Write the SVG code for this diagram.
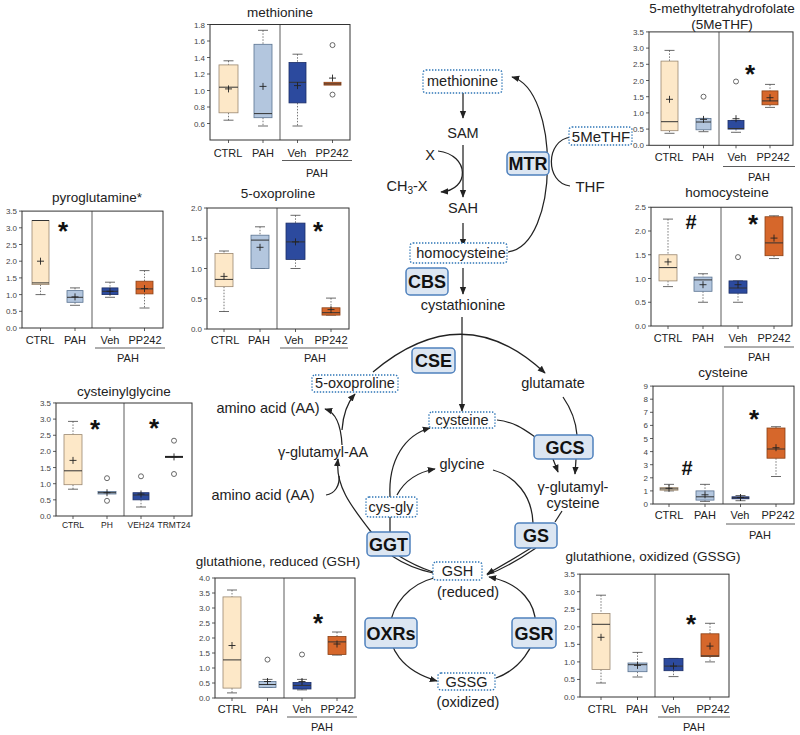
<svg xmlns="http://www.w3.org/2000/svg" width="800" height="735" viewBox="0 0 800 735">
<defs>
<marker id="ah" viewBox="0 0 10 10" refX="9" refY="5" markerWidth="8" markerHeight="8" markerUnits="userSpaceOnUse" orient="auto"><path d="M0,1 L10,5 L0,9 z" fill="#222"/></marker>
<style>
text{font-family:"Liberation Sans",Arial,sans-serif}
.fr{fill:none;stroke:#333;stroke-width:1}
.tk{stroke:#333;stroke-width:0.8}
.tl{font-size:8px;fill:#444;text-anchor:end}
.xl{font-size:11px;fill:#222;text-anchor:middle}
.xs{font-size:8.5px;fill:#222;text-anchor:middle}
.ti{font-size:13.5px;fill:#222;text-anchor:middle}
.c{fill:#FDE8C8;stroke:#9A8770;stroke-width:0.8}
.p{fill:#B3C6DE;stroke:#5A7391;stroke-width:0.8}
.v{fill:#2C4A9E;stroke:#1B2D66;stroke-width:0.8}
.o{fill:#D6672B;stroke:#8A4015;stroke-width:0.8}
.md{stroke:#333;stroke-width:1}
.w{stroke:#555;stroke-width:0.8;stroke-dasharray:1.5 1.5}
.cp{stroke:#444;stroke-width:0.8}
.mn{stroke:#222;stroke-width:0.9;fill:none}
.ol{fill:#fff;stroke:#444;stroke-width:0.8}
.st{font-size:26px;font-weight:bold;fill:#111;text-anchor:middle}
.hs{font-size:20px;font-weight:bold;fill:#111;text-anchor:middle}
.ul{stroke:#333;stroke-width:0.8}
.pt{font-size:14.5px;fill:#222;text-anchor:middle}
.en rect{fill:#DCE6F2;stroke:#4F81BD;stroke-width:1.5}
.en text{font-size:18px;font-weight:bold;fill:#111;text-anchor:middle}
.db rect{fill:#fff;stroke:#2E75B6;stroke-width:1.4;stroke-dasharray:1.4 1.6}
.cn path{fill:none;stroke:#222;stroke-width:1.25}
</style>
</defs>
<rect width="800" height="735" fill="#fff"/>

<!-- methionine chart -->
<g id="chart-methionine">
<text class="ti" x="280" y="17">methionine</text>
<rect class="fr" x="210" y="24.5" width="140" height="115.5"/>
<line class="tk" x1="280" y1="24.5" x2="280" y2="140"/>
<path class="tk" d="M207,123.5h3M207,107h3M207,90.5h3M207,74h3M207,57.5h3M207,41h3M207,24.5h3M228.5,140v3M263,140v3M297.5,140v3M332.5,140v3"/>
<text class="tl" x="205" y="126.5">0.6</text><text class="tl" x="205" y="110">0.8</text><text class="tl" x="205" y="93.5">1.0</text><text class="tl" x="205" y="77">1.2</text><text class="tl" x="205" y="60.5">1.4</text><text class="tl" x="205" y="44">1.6</text><text class="tl" x="205" y="27.5">1.8</text>
<path class="w" d="M228.5,60.8V64.9M228.5,112.8V120.2M263,30.3V44.3M263,117.7V126M297.5,54.2V62.5M297.5,102.9V126"/>
<path class="cp" d="M223.5,60.8h10M223.5,120.2h10M258,30.3h10M258,126h10M292.5,54.2h10M292.5,126h10"/>
<rect class="c" x="219" y="64.9" width="19" height="47.9"/>
<rect class="p" x="254" y="44.3" width="18" height="73.4"/>
<rect class="v" x="289" y="62.5" width="17" height="40.4"/>
<rect class="o" x="324" y="82.3" width="17" height="2.8"/>
<path class="md" d="M219,87.2h19M254,113.6h18M289,82.3h17M324,83.9h17"/>
<path class="mn" d="M225,88.9h7M228.5,85.4v7M259.5,86.4h7M263,82.9v7M294,85.6h7M297.5,82.1v7M329,78.1h7M332.5,74.6v7"/>
<circle class="ol" cx="332.5" cy="45.1" r="2.5"/><circle class="ol" cx="332.5" cy="94.6" r="2.5"/>
<text class="xl" x="228" y="157">CTRL</text><text class="xl" x="263" y="157">PAH</text><text class="xl" x="297" y="157">Veh</text><text class="xl" x="332" y="157">PP242</text>
<line class="ul" x1="282" y1="160.5" x2="352" y2="160.5"/>
<text class="xl" x="317" y="177">PAH</text>
</g>

<!-- 5MeTHF chart -->
<g id="chart-5methf">
<text class="ti" x="722" y="13">5-methyltetrahydrofolate</text>
<text class="ti" x="722" y="29">(5MeTHF)</text>
<rect class="fr" x="649" y="31.9" width="144" height="113.4"/>
<line class="tk" x1="719" y1="31.9" x2="719" y2="145.3"/>
<path class="tk" d="M646,145.3h3M646,129.1h3M646,112.9h3M646,96.7h3M646,80.5h3M646,64.3h3M646,48.1h3M646,31.9h3M669.5,145.3v3M703.5,145.3v3M736,145.3v3M770,145.3v3"/>
<text class="tl" x="644" y="148.3">0.0</text><text class="tl" x="644" y="132.1">0.5</text><text class="tl" x="644" y="115.9">1.0</text><text class="tl" x="644" y="99.7">1.5</text><text class="tl" x="644" y="83.5">2.0</text><text class="tl" x="644" y="67.3">2.5</text><text class="tl" x="644" y="51.1">3.0</text><text class="tl" x="644" y="34.9">3.5</text>
<path class="w" d="M669.5,50.4V61.1M669.5,130.7V133.3M703.5,129.8V131.7M736,129.1V132.3M770,84.4V90.9M770,104.8V107.4"/>
<path class="cp" d="M664.5,50.4h10M664.5,133.3h10M698.5,131.7h10M698.5,118.4h10M731,132.3h10M731,120.4h10M765,84.4h10M765,107.4h10"/>
<rect class="c" x="661" y="61.1" width="17" height="69.6"/>
<rect class="p" x="696" y="118.4" width="15" height="11.4"/>
<rect class="v" x="728" y="120.4" width="16" height="8.7"/>
<rect class="o" x="762" y="90.9" width="16" height="13.9"/>
<path class="md" d="M661,121.7h17M696,122h15M728,128.5h16M762,100.9h16"/>
<path class="mn" d="M666,99.3h7M669.5,95.8v7M700,119.4h7M703.5,115.9v7M732.5,118.7h7M736,115.2v7M766.5,97.7h7M770,94.2v7"/>
<circle class="ol" cx="703.5" cy="96.7" r="2.5"/><circle class="ol" cx="736" cy="81.5" r="2.5"/>
<text class="st" x="750" y="83">*</text>
<text class="xl" x="669" y="161">CTRL</text><text class="xl" x="703" y="161">PAH</text><text class="xl" x="737" y="161">Veh</text><text class="xl" x="773" y="161">PP242</text>
<line class="ul" x1="723" y1="166.5" x2="795" y2="166.5"/>
<text class="xl" x="759" y="181">PAH</text>
</g>

<!-- homocysteine chart -->
<g id="chart-homocysteine">
<text class="ti" x="727" y="197">homocysteine</text>
<rect class="fr" x="651" y="207.25" width="141" height="118.75"/>
<line class="tk" x1="721" y1="207.25" x2="721" y2="326"/>
<path class="tk" d="M648,326h3M648,302.25h3M648,278.5h3M648,254.75h3M648,231h3M648,207.25h3M668,326v3M703,326v3M738,326v3M774,326v3"/>
<text class="tl" x="646" y="329">0.0</text><text class="tl" x="646" y="305.25">0.5</text><text class="tl" x="646" y="281.5">1.0</text><text class="tl" x="646" y="257.75">1.5</text><text class="tl" x="646" y="234">2.0</text><text class="tl" x="646" y="210.25">2.5</text>
<path class="w" d="M668,219.1V254.75M668,280.9V286.6M703,273.75V277.1M703,291.3V302.25M738,293.2V302.25M774,215.8V216.75M774,255.7V258.55"/>
<path class="cp" d="M663,219.1h10M663,286.6h10M698,273.75h10M698,302.25h10M733,302.25h10M733,280.9h10M769,215.8h10M769,258.55h10"/>
<rect class="c" x="659" y="254.75" width="18" height="26.15"/>
<rect class="p" x="694" y="277.1" width="18" height="14.2"/>
<rect class="v" x="729" y="280.9" width="18" height="12.3"/>
<rect class="o" x="765" y="216.75" width="18" height="38.95"/>
<path class="md" d="M659,267.6h18M694,279.9h18M729,288h18M765,242.9h18"/>
<path class="mn" d="M664.5,261.9h7M668,258.4v7M699.5,284.7h7M703,281.2v7M734.5,284.7h7M738,281.2v7M770.5,238.1h7M774,234.6v7"/>
<circle class="ol" cx="738" cy="257.1" r="2.5"/>
<text class="hs" x="691" y="229">#</text>
<text class="st" x="753" y="233">*</text>
<text class="xl" x="668" y="342">CTRL</text><text class="xl" x="703" y="342">PAH</text><text class="xl" x="738" y="342">Veh</text><text class="xl" x="774" y="342">PP242</text>
<line class="ul" x1="724" y1="347" x2="794" y2="347"/>
<text class="xl" x="759" y="361">PAH</text>
</g>

<!-- cysteine chart -->
<g id="chart-cysteine">
<text class="ti" x="723" y="377">cysteine</text>
<rect class="fr" x="653" y="386.1" width="141" height="117.9"/>
<line class="tk" x1="723" y1="386.1" x2="723" y2="504"/>
<path class="tk" d="M650,504h3M650,490.9h3M650,477.8h3M650,464.7h3M650,451.6h3M650,438.5h3M650,425.4h3M650,412.3h3M650,399.2h3M650,386.1h3M669,504v3M705,504v3M740.5,504v3M776,504v3"/>
<text class="tl" x="648" y="507">0</text><text class="tl" x="648" y="493.9">1</text><text class="tl" x="648" y="480.8">2</text><text class="tl" x="648" y="467.7">3</text><text class="tl" x="648" y="454.6">4</text><text class="tl" x="648" y="441.5">5</text><text class="tl" x="648" y="428.4">6</text><text class="tl" x="648" y="415.3">7</text><text class="tl" x="648" y="402.2">8</text><text class="tl" x="648" y="389.1">9</text>
<path class="w" d="M669,484.35V487.6M705,484.35V490.9M705,500.1V501.4M740.5,495.5V496.8M740.5,498.8V500.7M776,426.7V428M776,458.2V476.5"/>
<path class="cp" d="M664,484.35h10M664,490.9h10M700,484.35h10M700,501.4h10M735.5,495.5h10M735.5,500.7h10M771,426.7h10M771,476.5h10"/>
<rect class="c" x="660" y="487.6" width="18" height="2.6"/>
<rect class="p" x="696" y="490.9" width="18" height="9.2"/>
<rect class="v" x="732" y="496.8" width="17" height="2"/>
<rect class="o" x="767" y="428" width="18" height="30.2"/>
<path class="md" d="M660,488.9h18M696,496.8h18M732,497.8h17M767,449h18"/>
<path class="mn" d="M665.5,488.3h7M669,484.8v7M701.5,494.8h7M705,491.3v7M737,497.5h7M740.5,494v7M772.5,447.7h7M776,444.2v7"/>
<text class="hs" x="687" y="475">#</text>
<text class="st" x="754" y="428">*</text>
<text class="xl" x="669" y="519">CTRL</text><text class="xl" x="705" y="519">PAH</text><text class="xl" x="740" y="519">Veh</text><text class="xl" x="778" y="519">PP242</text>
<line class="ul" x1="726" y1="524" x2="795" y2="524"/>
<text class="xl" x="760" y="539">PAH</text>
</g>

<!-- GSSG chart -->
<g id="chart-gssg">
<text class="ti" x="653" y="561">glutathione, oxidized (GSSG)</text>
<rect class="fr" x="580" y="574.15" width="149" height="122.85"/>
<line class="tk" x1="655" y1="574.15" x2="655" y2="697"/>
<path class="tk" d="M577,697h3M577,679.45h3M577,661.9h3M577,644.35h3M577,626.8h3M577,609.25h3M577,591.7h3M577,574.15h3M601,697v3M637.5,697v3M673.5,697v3M710,697v3"/>
<text class="tl" x="575" y="700">0.0</text><text class="tl" x="575" y="682.45">0.5</text><text class="tl" x="575" y="664.9">1.0</text><text class="tl" x="575" y="647.35">1.5</text><text class="tl" x="575" y="629.8">2.0</text><text class="tl" x="575" y="612.25">2.5</text><text class="tl" x="575" y="594.7">3.0</text><text class="tl" x="575" y="577.15">3.5</text>
<path class="w" d="M601,595.2V613.5M601,669.6V683M637.5,652.4V663M637.5,671.7V677M673.5,670.7V676.6M710,623.3V633.8M710,656.6V661.9"/>
<path class="cp" d="M596,595.2h10M596,683h10M632.5,652.4h10M632.5,677h10M668.5,676.6h10M668.5,658.4h10M705,623.3h10M705,661.9h10"/>
<rect class="c" x="592" y="613.5" width="18" height="56.1"/>
<rect class="p" x="628" y="663" width="19" height="8.7"/>
<rect class="v" x="664" y="658.4" width="19" height="12.3"/>
<rect class="o" x="701" y="633.8" width="18" height="22.8"/>
<path class="md" d="M592,624.3h18M628,664.7h19M664,666.1h19M701,655.9h18"/>
<path class="mn" d="M597.5,637.3h7M601,633.8v7M634,665.4h7M637.5,661.9v7M670,666.1h7M673.5,662.6v7M706.5,646.1h7M710,642.6v7"/>
<text class="st" x="691" y="633">*</text>
<text class="xl" x="602" y="713">CTRL</text><text class="xl" x="637" y="713">PAH</text><text class="xl" x="671" y="713">Veh</text><text class="xl" x="713" y="713">PP242</text>
<line class="ul" x1="658" y1="717" x2="730" y2="717"/>
<text class="xl" x="694" y="731">PAH</text>
</g>

<!-- GSH chart -->
<g id="chart-gsh">
<text class="ti" x="278" y="566">glutathione, reduced (GSH)</text>
<rect class="fr" x="215" y="578" width="140" height="120"/>
<line class="tk" x1="284" y1="578" x2="284" y2="698"/>
<path class="tk" d="M212,698h3M212,683h3M212,668h3M212,653h3M212,638h3M212,623h3M212,608h3M212,593h3M212,578h3M232,698v3M267.5,698v3M302,698v3M337,698v3"/>
<text class="tl" x="210" y="701">0.0</text><text class="tl" x="210" y="686">0.5</text><text class="tl" x="210" y="671">1.0</text><text class="tl" x="210" y="656">1.5</text><text class="tl" x="210" y="641">2.0</text><text class="tl" x="210" y="626">2.5</text><text class="tl" x="210" y="611">3.0</text><text class="tl" x="210" y="596">3.5</text><text class="tl" x="210" y="581">4.0</text>
<path class="w" d="M232,590V596.9M232,688.1V692.9M267.5,679.4V681.5M302,679.4V682.4M302,689V689.9M337,632V636.5M337,654.5V655.1"/>
<path class="cp" d="M227,590h10M227,692.9h10M262.5,679.4h10M262.5,687.5h10M297,679.4h10M297,689.9h10M332,632h10M332,655.1h10"/>
<rect class="c" x="223" y="596.9" width="18" height="91.2"/>
<rect class="p" x="259" y="681.5" width="17" height="6"/>
<rect class="v" x="293" y="682.4" width="18" height="6.6"/>
<rect class="o" x="328" y="636.5" width="18" height="18"/>
<path class="md" d="M223,659.9h18M259,684.5h17M293,685.4h18M328,641.9h18"/>
<path class="mn" d="M228.5,645.5h7M232,642v7M264,681.5h7M267.5,678v7M298.5,681.5h7M302,678v7M333.5,644h7M337,640.5v7"/>
<circle class="ol" cx="267.5" cy="659.6" r="2.5"/><circle class="ol" cx="302" cy="654.5" r="2.5"/>
<text class="st" x="318" y="632">*</text>
<text class="xl" x="232" y="713">CTRL</text><text class="xl" x="267" y="713">PAH</text><text class="xl" x="302" y="713">Veh</text><text class="xl" x="337" y="713">PP242</text>
<line class="ul" x1="287" y1="717" x2="357" y2="717"/>
<text class="xl" x="322" y="731">PAH</text>
</g>

<!-- cysteinylglycine chart -->
<g id="chart-cysteinylglycine">
<text class="ti" x="124" y="396">cysteinylglycine</text>
<rect class="fr" x="56" y="403" width="136" height="113"/>
<line class="tk" x1="124" y1="403" x2="124" y2="516"/>
<path class="tk" d="M53,516h3M53,499.85h3M53,483.7h3M53,467.55h3M53,451.4h3M53,435.25h3M53,419.1h3M53,402.95h3M73,516v3M107,516v3M141,516v3M174,516v3"/>
<text class="tl" x="51" y="519">0.0</text><text class="tl" x="51" y="502.85">0.5</text><text class="tl" x="51" y="486.7">1.0</text><text class="tl" x="51" y="470.55">1.5</text><text class="tl" x="51" y="454.4">2.0</text><text class="tl" x="51" y="438.25">2.5</text><text class="tl" x="51" y="422.1">3.0</text><text class="tl" x="51" y="405.95">3.5</text>
<path class="w" d="M73,421.4V434.6M73,484.7V489.2M141,499.85V507"/>
<path class="cp" d="M68,421.4h10M68,489.2h10M136,507h10"/>
<rect class="c" x="64" y="434.6" width="18" height="50.1"/>
<rect class="p" x="98" y="491.5" width="18" height="2.5"/>
<rect class="v" x="133" y="492.7" width="16" height="7.15"/>
<path class="md" d="M64,470.8h18M98,492.7h18M133,495h16"/>
<line x1="165" y1="456.9" x2="183" y2="456.9" stroke="#222" stroke-width="2"/>
<path class="mn" d="M69.5,460.4h7M73,456.9v7M103.5,492.7h7M107,489.2v7M137.5,494h7M141,490.5v7M170.5,456.9h7M174,453.4v7"/>
<circle class="ol" cx="107" cy="478.2" r="2.5"/><circle class="ol" cx="107" cy="500.8" r="2.5"/><circle class="ol" cx="141" cy="476.3" r="2.5"/><circle class="ol" cx="174" cy="440.7" r="2.5"/><circle class="ol" cx="174" cy="474" r="2.5"/>
<text class="st" x="95" y="438">*</text><text class="st" x="154" y="437">*</text>
<text class="xs" x="73" y="528">CTRL</text><text class="xs" x="107" y="528">PH</text><text class="xs" x="141" y="528">VEH24</text><text class="xs" x="174" y="528">TRMT24</text>
</g>

<!-- pyroglutamine chart -->
<g id="chart-pyroglutamine">
<text class="ti" x="97" y="202">pyroglutamine*</text>
<rect class="fr" x="22" y="211.1" width="141" height="116.9"/>
<line class="tk" x1="92" y1="211.1" x2="92" y2="328"/>
<path class="tk" d="M19,328h3M19,311.3h3M19,294.6h3M19,277.9h3M19,261.2h3M19,244.5h3M19,227.8h3M19,211.1h3M40.5,328v3M75,328v3M110,328v3M144.5,328v3"/>
<text class="tl" x="17" y="331">0.0</text><text class="tl" x="17" y="314.3">0.5</text><text class="tl" x="17" y="297.6">1.0</text><text class="tl" x="17" y="280.9">1.5</text><text class="tl" x="17" y="264.2">2.0</text><text class="tl" x="17" y="247.5">2.5</text><text class="tl" x="17" y="230.8">3.0</text><text class="tl" x="17" y="214.1">3.5</text>
<path class="w" d="M40.5,284.6V294.6M75,287.9V290.6M75,302.3V305.3M110,282.2V287.9M110,294.6V297.3M144.5,270.6V281.2M144.5,293.9V308"/>
<path class="cp" d="M35.5,294.6h10M70,287.9h10M70,305.3h10M105,282.2h10M105,297.3h10M139.5,270.6h10M139.5,308h10"/>
<rect class="c" x="32" y="220.5" width="17" height="64.1"/>
<rect class="p" x="67" y="290.6" width="16" height="11.7"/>
<rect class="v" x="102" y="287.9" width="16" height="6.7"/>
<rect class="o" x="136" y="281.2" width="17" height="12.7"/>
<path class="md" d="M32,220.5h17M32,282.9h17M67,297.3h16M102,291.3h16M136,288.9h17"/>
<path class="mn" d="M37,261.2h7M40.5,257.7v7M71.5,296.9h7M75,293.4v7M106.5,291.3h7M110,287.8v7M141,288.6h7M144.5,285.1v7"/>
<text class="st" x="63" y="240">*</text>
<text class="xl" x="40" y="344">CTRL</text><text class="xl" x="75" y="344">PAH</text><text class="xl" x="110" y="344">Veh</text><text class="xl" x="145" y="344">PP242</text>
<line class="ul" x1="95" y1="348" x2="165" y2="348"/>
<text class="xl" x="128" y="362">PAH</text>
</g>

<!-- 5-oxoproline chart -->
<g id="chart-5oxoproline">
<text class="ti" x="278" y="198">5-oxoproline</text>
<rect class="fr" x="207" y="208" width="142" height="121"/>
<line class="tk" x1="277" y1="208" x2="277" y2="329"/>
<path class="tk" d="M204,329h3M204,298.75h3M204,268.5h3M204,238.25h3M204,208h3M224,329v3M260,329v3M295.5,329v3M331,329v3"/>
<text class="tl" x="202" y="332">0.0</text><text class="tl" x="202" y="301.75">0.5</text><text class="tl" x="202" y="271.5">1.0</text><text class="tl" x="202" y="241.25">1.5</text><text class="tl" x="202" y="211">2.0</text>
<path class="w" d="M224,251V253.4M224,286.65V311.5M260,226.8V235.2M295.5,215.3V223.1M295.5,259.4V268.5M331,298.1V307.8"/>
<path class="cp" d="M219,251h10M219,311.5h10M255,226.8h10M255,268.5h10M290.5,215.3h10M290.5,268.5h10M326,298.1h10M326,315.1h10"/>
<rect class="c" x="215" y="253.4" width="18" height="33.25"/>
<rect class="p" x="251" y="235.2" width="18" height="33.3"/>
<rect class="v" x="286" y="223.1" width="19" height="36.3"/>
<rect class="o" x="322" y="307.8" width="18" height="7.3"/>
<path class="md" d="M215,279.4h18M251,240.1h18M286,241.9h19M322,312.7h18"/>
<path class="mn" d="M220.5,276.4h7M224,272.9v7M256.5,247.3h7M260,243.8v7M292,241.9h7M295.5,238.4v7M327.5,309.6h7M331,306.1v7"/>
<text class="st" x="318" y="240">*</text>
<text class="xl" x="225" y="344">CTRL</text><text class="xl" x="259" y="344">PAH</text><text class="xl" x="294" y="344">Veh</text><text class="xl" x="331" y="344">PP242</text>
<line class="ul" x1="280" y1="348" x2="348" y2="348"/>
<text class="xl" x="315" y="362">PAH</text>
</g>

<!-- connectors -->
<g id="connectors" class="cn">
<path d="M463,93V118" marker-end="url(#ah)"/>
<path d="M463,145V197" marker-end="url(#ah)"/>
<path d="M463,223V246" marker-end="url(#ah)"/>
<path d="M463,268V294" marker-end="url(#ah)"/>
<path d="M438,151C470,155 470,190 441,192" marker-end="url(#ah)"/>
<path d="M508,252C560,245 560,90 512,77" marker-end="url(#ah)"/>
<path d="M571,137C545,140 545,183 570,186"/>
<path d="M373,372Q463,296 545,373" marker-end="url(#ah)"/>
<path d="M462,317V411" marker-end="url(#ah)"/>
<path d="M342,445C341,425 335,412 325,409" marker-end="url(#ah)"/>
<path d="M342,430C343,415 348,402 355,394" marker-end="url(#ah)"/>
<path d="M372,533C350,505 335,485 338,459" marker-end="url(#ah)"/>
<path d="M326,495C335,494 340,485 339,476"/>
<path d="M390,497C388,460 405,435 430,428" marker-end="url(#ah)"/>
<path d="M397,495C405,480 418,472 435,469" marker-end="url(#ah)"/>
<path d="M390,517V532"/>
<path d="M497,420C515,422 525,430 535,437"/>
<path d="M563,397C572,410 576,422 577,435"/>
<path d="M553,459L558,472" marker-end="url(#ah)"/>
<path d="M576,459L575,474" marker-end="url(#ah)"/>
<path d="M493,470C515,476 532,495 533,523"/>
<path d="M555,522L562,511"/>
<path d="M392,556Q410,568 433,573"/>
<path d="M399,556Q415,566 433,572"/>
<path d="M531,548Q507,563 487,574" marker-end="url(#ah)"/>
<path d="M536,548Q510,566 487,575"/>
<path d="M434,578C385,590 365,660 437,681" marker-end="url(#ah)"/>
<path d="M496,678C545,660 555,590 489,577" marker-end="url(#ah)"/>
</g>

<!-- metabolite nodes -->
<g id="n-methionine" class="db"><rect x="423" y="70" width="79" height="23" rx="3"/><text class="pt" x="462.5" y="86">methionine</text></g>
<g id="n-sam"><text class="pt" x="463" y="138">SAM</text></g>
<g id="n-x"><text class="pt" x="430" y="160">X</text></g>
<g id="n-ch3x"><text class="pt" x="407" y="191">CH<tspan font-size="10" dy="3">3</tspan><tspan dy="-3">-X</tspan></text></g>
<g id="n-sah"><text class="pt" x="463" y="213">SAH</text></g>
<g id="n-homocysteine" class="db"><rect x="410" y="243" width="97" height="20" rx="3"/><text class="pt" x="461" y="258">homocysteine</text></g>
<g id="n-5methf" class="db"><rect x="569" y="127" width="63" height="18" rx="3"/><text class="pt" x="601" y="142" style="font-size:15px">5MeTHF</text></g>
<g id="n-thf"><text class="pt" x="590" y="192" style="font-size:15px">THF</text></g>
<g id="n-cystathionine"><text class="pt" x="463" y="310">cystathionine</text></g>
<g id="n-5oxoproline" class="db"><rect x="312" y="375" width="86" height="17" rx="3"/><text class="pt" x="355" y="388">5-oxoproline</text></g>
<g id="n-glutamate"><text class="pt" x="553" y="388">glutamate</text></g>
<g id="n-aa1"><text class="pt" x="268" y="413">amino acid (AA)</text></g>
<g id="n-gglutaa"><text class="pt" x="323" y="457">γ-glutamyl-AA</text></g>
<g id="n-aa2"><text class="pt" x="263" y="500">amino acid (AA)</text></g>
<g id="n-cysteine" class="db"><rect x="429" y="412" width="66" height="16" rx="3"/><text class="pt" x="462" y="425">cysteine</text></g>
<g id="n-glycine"><text class="pt" x="462" y="469">glycine</text></g>
<g id="n-gglutcys"><text class="pt" x="573" y="492">γ-glutamyl-</text><text class="pt" x="573" y="508">cysteine</text></g>
<g id="n-cysgly" class="db"><rect x="366" y="497" width="51" height="20" rx="3"/><text class="pt" x="391" y="512">cys-gly</text></g>
<g id="n-gsh" class="db"><rect x="433" y="562" width="49" height="18" rx="3"/><text class="pt" x="457.5" y="576">GSH</text><text class="pt" x="468" y="597">(reduced)</text></g>
<g id="n-gssg" class="db"><rect x="438" y="673" width="57" height="17" rx="3"/><text class="pt" x="466.5" y="687">GSSG</text><text class="pt" x="468" y="707">(oxidized)</text></g>

<!-- enzyme nodes -->
<g id="e-mtr" class="en"><rect x="507" y="152" width="42" height="23" rx="4"/><text x="528" y="170">MTR</text></g>
<g id="e-cbs" class="en"><rect x="406" y="268" width="42" height="27" rx="4"/><text x="427" y="288">CBS</text></g>
<g id="e-cse" class="en"><rect x="412" y="348" width="43" height="25" rx="4"/><text x="433.5" y="367">CSE</text></g>
<g id="e-gcs" class="en"><rect x="534" y="435" width="59" height="24" rx="4"/><text x="565" y="453.5">GCS</text></g>
<g id="e-ggt" class="en"><rect x="367" y="532" width="43" height="24" rx="4"/><text x="388.5" y="550.5">GGT</text></g>
<g id="e-gs" class="en"><rect x="515" y="523" width="42" height="25" rx="4"/><text x="536" y="542">GS</text></g>
<g id="e-oxrs" class="en"><rect x="365" y="618" width="52" height="30" rx="4"/><text x="391" y="639.5">OXRs</text></g>
<g id="e-gsr" class="en"><rect x="512" y="618" width="44" height="30" rx="4"/><text x="534" y="639.5">GSR</text></g>
</svg>
